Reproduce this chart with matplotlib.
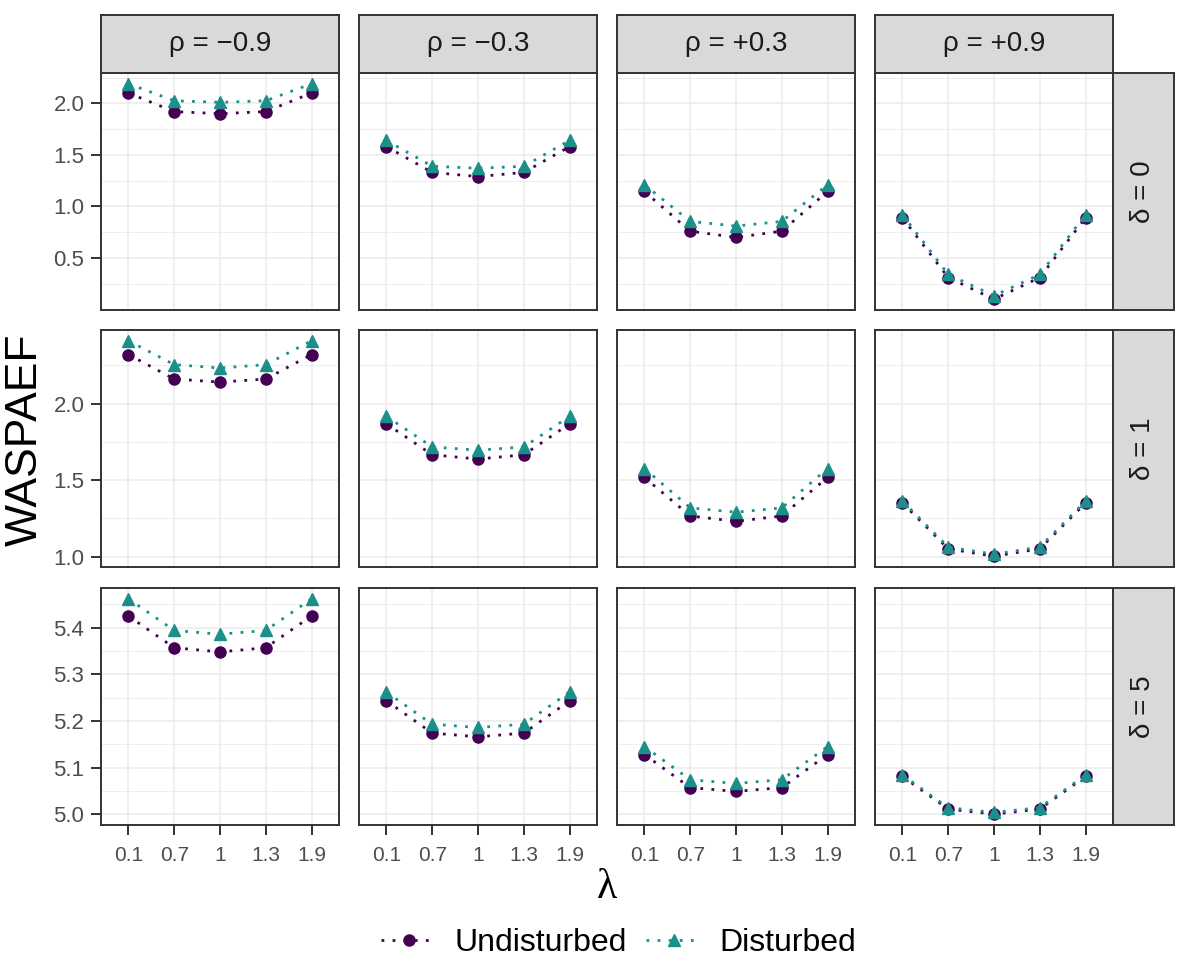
import matplotlib
matplotlib.use('Agg')
import matplotlib.pyplot as plt
from matplotlib.lines import Line2D

plt.rcParams['font.family'] = ['Liberation Sans', 'DejaVu Sans']

# categories
lam_labels = ['0.1', '0.7', '1', '1.3', '1.9']
rho_labels = ['ρ = −0.9', 'ρ = −0.3', 'ρ = +0.3', 'ρ = +0.9']
delta_labels = ['δ = 0', 'δ = 1', 'δ = 5']

# WASPAEF values, one list per rho, rows are delta
d0_undist = [[2.10, 1.92, 1.90, 1.92, 2.10],
             [1.58, 1.33, 1.29, 1.33, 1.58],
             [1.145, 0.76, 0.70, 0.76, 1.145],
             [0.89, 0.31, 0.10, 0.31, 0.89]]
d0_dist = [[2.19, 2.025, 2.01, 2.025, 2.19],
           [1.64, 1.39, 1.37, 1.39, 1.64],
           [1.21, 0.855, 0.81, 0.855, 1.21],
           [0.92, 0.34, 0.135, 0.34, 0.92]]
d1_undist = [[2.32, 2.16, 2.14, 2.16, 2.32],
             [1.867, 1.665, 1.637, 1.665, 1.867],
             [1.517, 1.265, 1.23, 1.265, 1.517],
             [1.35, 1.05, 1.002, 1.05, 1.35]]
d1_dist = [[2.41, 2.254, 2.232, 2.254, 2.41],
           [1.916, 1.716, 1.695, 1.716, 1.916],
           [1.575, 1.318, 1.29, 1.318, 1.575],
           [1.362, 1.062, 1.015, 1.062, 1.362]]
d5_undist = [[5.425, 5.357, 5.348, 5.357, 5.425],
             [5.243, 5.174, 5.166, 5.174, 5.243],
             [5.128, 5.057, 5.049, 5.057, 5.128],
             [5.081, 5.011, 5.000, 5.011, 5.081]]
d5_dist = [[5.462, 5.394, 5.386, 5.394, 5.462],
           [5.262, 5.193, 5.186, 5.193, 5.262],
           [5.145, 5.074, 5.066, 5.074, 5.145],
           [5.084, 5.014, 5.004, 5.014, 5.084]]

undist = [d0_undist, d1_undist, d5_undist]
dist = [d0_dist, d1_dist, d5_dist]
y_major = [[0.5, 1.0, 1.5, 2.0], [1.0, 1.5, 2.0], [5.0, 5.1, 5.2, 5.3, 5.4]]
y_minor = [[0.25, 0.75, 1.25, 1.75, 2.25], [1.25, 1.75, 2.25],
           [5.05, 5.15, 5.25, 5.35, 5.45]]

C_UND = '#440154'
C_DIS = '#1B9089'
GRID = '#EBEBEB'
DARK = '#333333'

W, H = 1181, 961
fig = plt.figure(figsize=(W / 100, H / 100), dpi=100)

def rect(x, y, w, h):
    return [x / W, 1 - (y + h) / H, w / W, h / H]

col_x = [101, 359, 617, 875]
row_y = [73, 330, 588]
pw, ph = 238, 237
x = list(range(1, 6))

for r in range(3):
    allv = [v for s in undist[r] + dist[r] for v in s]
    lo, hi = min(allv), max(allv)
    pad = (hi - lo) * 0.05
    for c in range(4):
        ax = fig.add_axes(rect(col_x[c], row_y[r], pw, ph))
        ax.set_xlim(0.4, 5.6)
        ax.set_ylim(lo - pad, hi + pad)
        for yv in y_minor[r]:
            ax.axhline(yv, color=GRID, lw=0.6, zorder=0)
        for yv in y_major[r]:
            ax.axhline(yv, color=GRID, lw=1.1, zorder=0)
        for xv in x:
            ax.axvline(xv, color=GRID, lw=1.1, zorder=0)
        ax.plot(x, undist[r][c], color=C_UND, ls=(0, (1, 3)), lw=2,
                marker='o', ms=8, zorder=3)
        ax.plot(x, dist[r][c], color=C_DIS, ls=(0, (1, 3)), lw=2,
                marker='^', ms=9, zorder=4)
        for s in ax.spines.values():
            s.set_color(DARK)
            s.set_linewidth(1.4)
        ax.set_xticks(x)
        ax.set_yticks(y_major[r])
        ax.tick_params(length=7, width=1.4, color=DARK, labelcolor='#4D4D4D')
        ax.tick_params(axis='y', labelsize=16, pad=5)
        ax.tick_params(axis='x', labelsize=15, pad=8)
        if r == 2:
            ax.set_xticklabels(lam_labels,
                               family=['Liberation Sans Narrow', 'Liberation Sans'])
        else:
            ax.tick_params(axis='x', length=0, labelbottom=False)
        if c == 0:
            ax.set_yticklabels([f'{v:.1f}' for v in y_major[r]])
        else:
            ax.tick_params(axis='y', length=0, labelleft=False)

# strips
for c in range(4):
    sa = fig.add_axes(rect(col_x[c], 15, pw, 58))
    sa.set_facecolor('#D9D9D9')
    sa.set_xticks([])
    sa.set_yticks([])
    for s in sa.spines.values():
        s.set_color(DARK)
        s.set_linewidth(1.4)
    sa.text(0.5, 0.5, rho_labels[c], ha='center', va='center',
            fontsize=20, color='#1A1A1A', transform=sa.transAxes)

for r in range(3):
    sa = fig.add_axes(rect(1113, row_y[r], 61, ph))
    sa.set_facecolor('#D9D9D9')
    sa.set_xticks([])
    sa.set_yticks([])
    for s in sa.spines.values():
        s.set_color(DARK)
        s.set_linewidth(1.4)
    sa.text(0.5, 0.5, delta_labels[r], ha='center', va='center',
            rotation=90, fontsize=20, color='#1A1A1A', transform=sa.transAxes)

fig.text(25 / W, 1 - 440 / H, 'WASPAEF', rotation=90, ha='center',
         va='center', fontsize=32)
fig.text(607 / W, 1 - 888 / H, 'λ', ha='center', va='center', fontsize=30,
         family=['Liberation Serif', 'DejaVu Serif'])

handles = [Line2D([], [], color=C_UND, ls=(0, (1, 3)), lw=2, marker='o', ms=8),
           Line2D([], [], color=C_DIS, ls=(0, (1, 3)), lw=2, marker='^', ms=9)]
fig.legend(handles, ['Undisturbed', 'Disturbed'], loc='center',
           bbox_to_anchor=(619 / W, 1 - 943 / H), ncol=2, frameon=False,
           fontsize=23, handlelength=1.7, columnspacing=0.6, handletextpad=0.6)

fig.savefig('out.png', dpi=100)
